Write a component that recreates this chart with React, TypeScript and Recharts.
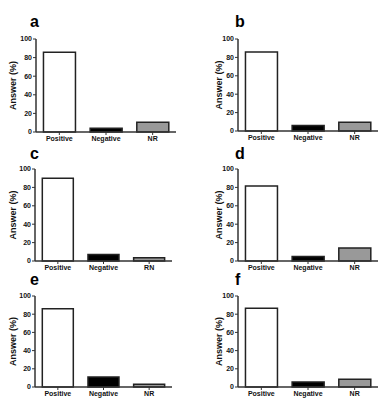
import { BarChart, Bar, XAxis, YAxis, Cell } from "recharts";

const categories = ["Positive", "Negative", "NR"];
const categoriesC = ["Positive", "Negative", "RN"];
const yTicks = [0, 20, 40, 60, 80, 100];

const valuesA = [85.7, 4, 10.5];
const valuesB = [86, 6, 9.5];
const valuesC = [90, 7, 3.5];
const valuesD = [81.5, 5, 14];
const valuesE = [86, 11, 3];
const valuesF = [86.5, 5.5, 8.5];

const fills = ["#ffffff", "#000000", "#999999"];
const FONT = "'Liberation Sans', Arial, sans-serif";

interface PanelProps {
  letter: string;
  names: string[];
  values: number[];
  axisX: number;
  plotTop: number;
  plotW: number;
  plotH: number;
  labelX: number;
  letterX: number;
  letterY: number;
}

function Panel({ letter, names, values, axisX, plotTop, plotW, plotH, labelX, letterX, letterY }: PanelProps) {
  const data = names.map((name, i) => ({ name, value: values[i] }));
  const yw = 40;
  const mt = 6;
  const mr = 6;
  const xh = 20;
  const W = yw + plotW + mr;
  const H = mt + plotH + xh;
  const lx = yw - (axisX - labelX);
  const ly = mt + plotH / 2;

  const tickStyle = { fontSize: 7, fontWeight: "bold", fill: "#111", fontFamily: FONT };

  return (
    <>
      <div
        style={{
          position: "absolute",
          left: letterX,
          top: letterY,
          font: `bold 16px ${FONT}`,
          lineHeight: "16px",
          color: "#000",
        }}
      >
        {letter}
      </div>
      <div style={{ position: "absolute", left: axisX - yw, top: plotTop - mt }}>
        <BarChart
          width={W}
          height={H}
          data={data}
          margin={{ top: mt, right: mr, left: 0, bottom: 0 }}
          barCategoryGap="16%"
        >
          <XAxis
            dataKey="name"
            height={xh}
            interval={0}
            tickSize={3}
            tickMargin={1}
            axisLine={{ stroke: "#333", strokeWidth: 1.5 }}
            tickLine={{ stroke: "#333" }}
            tick={tickStyle}
          />
          <YAxis
            width={yw}
            domain={[0, 100]}
            ticks={yTicks}
            interval={0}
            tickSize={3}
            tickMargin={1}
            axisLine={{ stroke: "#333", strokeWidth: 1.5 }}
            tickLine={{ stroke: "#333" }}
            tick={tickStyle}
            label={() => (
              <text
                x={lx}
                y={ly}
                transform={`rotate(-90 ${lx} ${ly})`}
                textAnchor="middle"
                dominantBaseline="central"
                style={{ fontSize: 9, fontWeight: "bold", fontFamily: FONT, fill: "#111" }}
              >
                Answer (%)
              </text>
            )}
          />
          <Bar dataKey="value" stroke="#222" strokeWidth={1.5} isAnimationActive={false}>
            {data.map((d, i) => (
              <Cell key={d.name} fill={fills[i]} />
            ))}
          </Bar>
        </BarChart>
      </div>
    </>
  );
}

export default function App() {
  return (
    <div
      style={{
        position: "fixed",
        left: 0,
        top: 0,
        width: 389,
        height: 410,
        background: "#fff",
        overflow: "hidden",
      }}
    >
      <Panel letter="a" names={categories} values={valuesA} axisX={36} plotTop={39} plotW={140} plotH={93} labelX={13} letterX={30} letterY={14} />
      <Panel letter="b" names={categories} values={valuesB} axisX={238} plotTop={39} plotW={140} plotH={92} labelX={219} letterX={235} letterY={14} />
      <Panel letter="c" names={categoriesC} values={valuesC} axisX={35} plotTop={169} plotW={137} plotH={92} labelX={13} letterX={30} letterY={146} />
      <Panel letter="d" names={categories} values={valuesD} axisX={238} plotTop={169} plotW={140} plotH={92} labelX={219} letterX={235} letterY={146} />
      <Panel letter="e" names={categories} values={valuesE} axisX={35} plotTop={296} plotW={137} plotH={91} labelX={13} letterX={30} letterY={272} />
      <Panel letter="f" names={categories} values={valuesF} axisX={238} plotTop={296} plotW={140} plotH={91} labelX={219} letterX={235} letterY={272} />
    </div>
  );
}
